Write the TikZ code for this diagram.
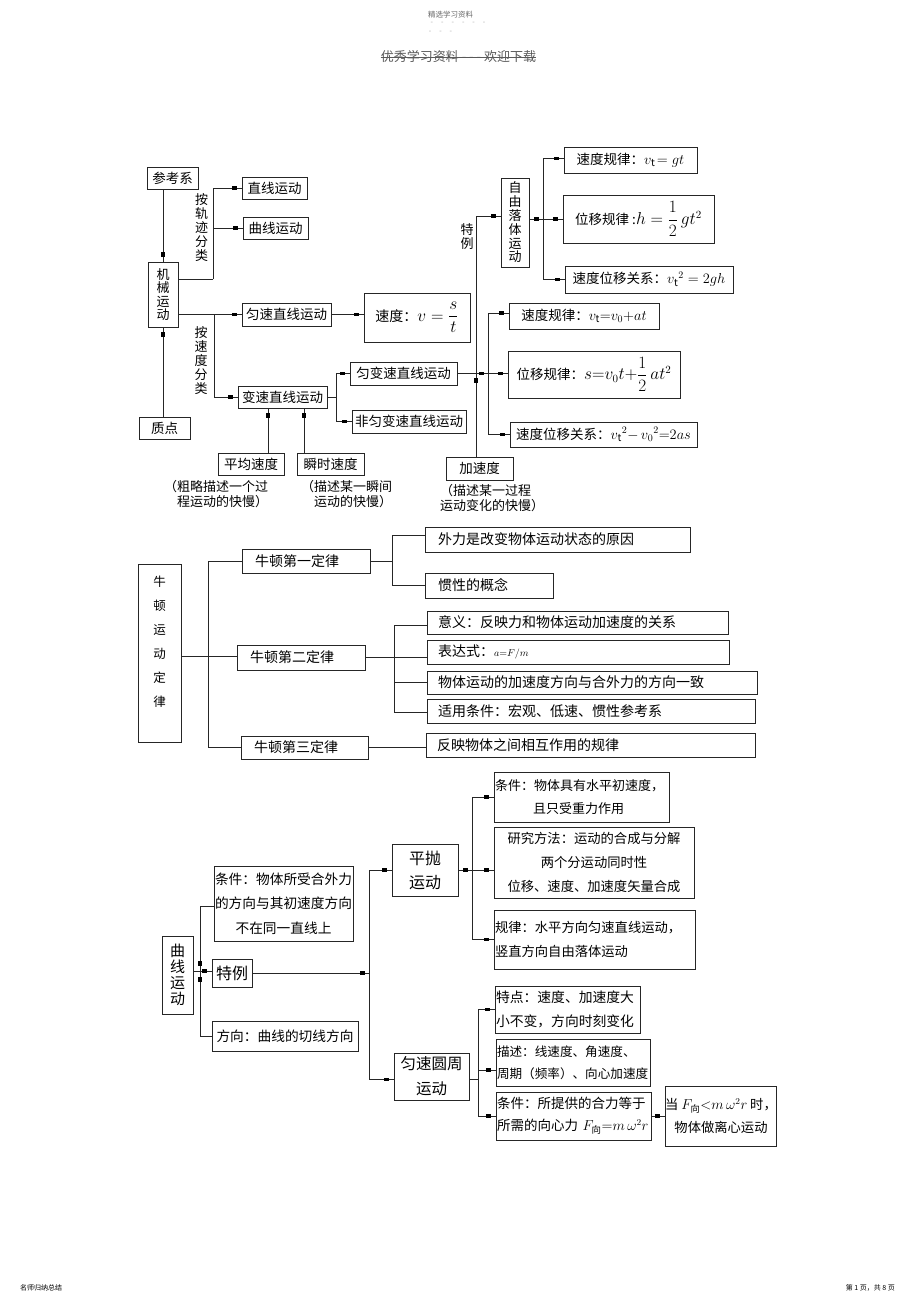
\documentclass[tikz,border=0pt]{standalone}
\usepackage{fontspec}
\usepackage{amsmath}
\setmainfont{Noto Sans CJK SC}
\usetikzlibrary{decorations.markings,calc}
\newcommand\myfs[2]{\fontsize{#1}{#2}\selectfont}
\tikzset{
  ln/.style={line width=0.9pt, draw=black!85},
  box/.style={ln, draw, inner sep=0pt, align=center, font=\myfs{13.5}{16}},
  mk/.style={ln, postaction={decorate}, decoration={markings, mark=at position -7pt with {\fill[black] (-2.5pt,-1.6pt) rectangle (2.5pt,1.6pt);}}},
  mks/.style={ln, postaction={decorate}, decoration={markings, mark=at position 8pt with {\fill[black] (-2.5pt,-1.6pt) rectangle (2.5pt,1.6pt);}}},
  vlab/.style={inner sep=0pt, align=center, font=\myfs{13}{14}},
  captxt/.style={inner sep=0pt, align=left, anchor=west, font=\myfs{13}{15}},
}
% centred box: [opts]{name}{x1}{y1}{x2}{y2}{text}
\newcommand\cbx[7][]{%
  \pgfmathsetmacro\BXw{#5-#3}\pgfmathsetmacro\BXh{#6-#4}%
  \pgfmathsetmacro\BXx{(#3+#5)/2}\pgfmathsetmacro\BXy{(#4+#6)/2}%
  \node[box,minimum width=\BXw pt,minimum height=\BXh pt,#1] (#2) at (\BXx,\BXy) {#7};}
% left-aligned box: [opts]{name}{x1}{y1}{x2}{y2}{pad}{text}
\newcommand\lbx[8][]{%
  \pgfmathsetmacro\BXw{#5-#3}\pgfmathsetmacro\BXh{#6-#4}%
  \pgfmathsetmacro\BXx{(#3+#5)/2}\pgfmathsetmacro\BXy{(#4+#6)/2}%
  \pgfmathsetmacro\BXt{#5-#3-2*#7}%
  \node[box,minimum width=\BXw pt,minimum height=\BXh pt,text width=\BXt pt,inner xsep=#7pt,align=left,font=\myfs{14}{16},#1] (#2) at (\BXx,\BXy) {#8};}
\begin{document}
\begin{tikzpicture}[x=1pt,y=-1pt]
\fill[white] (0,0) rectangle (920,1303);
\useasboundingbox (0,0) rectangle (920,1303);

% ---------- header / footer ----------
\node[font=\myfs{7.5}{9}, text=black!60, inner sep=0pt] (hd1) at (450.5,14.3) {精选学习资料};
\node[font=\myfs{7}{8}, text=black!35, inner sep=0pt] (hd2) at (458,23.3) {-\hspace{8pt}-\hspace{8pt}-\hspace{8pt}-\hspace{8pt}-\hspace{8pt}-};
\node[font=\myfs{7}{8}, text=black!35, inner sep=0pt] (hd3) at (440.5,32.3) {-\hspace{8pt}-\hspace{8pt}-};
\node[font=\myfs{13}{15}, text=black!65, inner sep=0pt] (hd4) at (458.5,57) {优秀学习资料 - - - 欢迎下载};
\draw[black!65, line width=0.7pt] (hd4.west) -- (hd4.east);
\node[font=\myfs{7}{8}, anchor=west, inner sep=0pt] (ft1) at (20,1288) {名师归纳总结};
\node[font=\myfs{7}{8}, anchor=east, inner sep=0pt] (ft2) at (895,1288) {第 1 页，共 8 页};

% ---------- section 1 : mechanical motion ----------
\cbx{ckx}{147}{167}{198}{189}{参考系}
\cbx{zx}{242}{177}{307}{199}{直线运动}
\cbx{qx}{243}{217}{308}{239}{曲线运动}
\cbx[font=\myfs{13}{13.5}]{jx}{148}{262}{178}{327}{机\\械\\运\\动}
\cbx{zd}{139}{417}{190}{439}{质点}
\cbx{ys}{242}{303}{331}{326}{匀速直线运动}
\cbx[font=\myfs{14}{16}]{vs}{364}{293}{470}{342}{速度：{\myfs{16}{18}$v=\dfrac{s}{t}$}}
\cbx{bs}{238}{386}{327}{408}{变速直线运动}
\cbx{ybs}{350}{362}{457}{385}{匀变速直线运动}
\cbx{fyb}{352}{410}{466}{433}{非匀变速直线运动}
\cbx{pj}{218}{453}{284}{475}{平均速度}
\cbx{ss}{297}{453}{364}{475}{瞬时速度}
\cbx{jsd}{446}{457}{513}{480}{加速度}
\cbx[font=\myfs{13}{13.8}]{zyl}{501}{178}{529}{267}{自\\由\\落\\体\\运\\动}
\cbx{f1}{564}{147}{697}{173}{速度规律：{\myfs{14.5}{16}$v_{\mathrm t}\!= gt$}}
\cbx{f2}{563}{195}{714}{243}{位移规律 :{\myfs{16}{18}$h=\dfrac{1}{2}\,gt^2$}}
\cbx{f3}{565}{266}{733}{293}{速度位移关系：{\myfs{14.5}{16}${v_{\mathrm t}}^2=2gh$}}
\cbx{f4}{509}{303}{659}{329}{速度规律：{\myfs{14.5}{16}$v_{\mathrm t}{=}v_0{+}at$}}
\cbx{f5}{508}{351}{680}{398}{位移规律：{\myfs{16}{18}$s{=}v_0t{+}\dfrac{1}{2}\,at^2$}}
\cbx{f6}{510}{422}{697}{447}{速度位移关系：{\myfs{14.5}{16}${v_{\mathrm t}}^2{-}\,{v_0}^2{=}2as$}}

\node[vlab] (agl) at (201.5,228) {按\\轨\\迹\\分\\类};
\node[vlab] (asd) at (201,361) {按\\速\\度\\分\\类};
\node[vlab] (tl0) at (467,237) {特\\例};

\node[captxt] (cp1) at (164,494.5) {（粗略描述一个过\\\hspace*{13pt}程运动的快慢）};
\node[captxt] (cp2) at (301,494.5) {（描述某一瞬间\\\hspace*{13pt}运动的快慢）};
\node[captxt] (cp3) at (440,498.5) {（描述某一过程\\运动变化的快慢）};

\coordinate (a1) at (213,279);
\draw[ln] (jx.east|-a1) -- (a1);
\draw[mk] (a1) |- (zx.west);
\draw[mk] (a1|-qx.west) -- (qx.west);
\coordinate (a2) at (214,314.5);
\draw[mk] (jx.east|-ys.west) -- (ys.west);
\draw[mk] (a2) |- (bs.west);
\draw[mk] (ckx.south-|jx.north) -- (jx.north);
\draw[mk] (zd.north-|jx.south) -- (jx.south);
\draw[mk] (ys.east) -- (ys.east-|vs.west);
\coordinate (a3) at (336,397);
\draw[ln] (bs.east) -- (a3);
\draw[mk] (a3) |- (ybs.west);
\draw[mk] (a3) |- (fyb.west);
\draw[mk] ([xshift=17pt]pj.north) -- ([xshift=17pt]pj.north|-bs.south);
\draw[mk] ([xshift=-26.5pt]ss.north) -- ([xshift=-26.5pt]ss.north|-bs.south);

\coordinate (a5) at (476,373.5);
\coordinate (a6) at (488,373.5);
\draw[mk] (ybs.east) -- (a6);
\draw[mk] (jsd.north-|a5) -- (a5);
\draw[mk] (a5) |- ([yshift=6.5pt]zyl.west);
\draw[mk] (a6) |- ([yshift=3pt]f4.west);
\draw[mk] (a6) -- (a6-|f5.west);
\draw[mk] (a6) |- (f6.west);

\coordinate (a7) at (543,219);
\draw[mk] (zyl.east|-a7) -- (a7);
\draw[mk] (a7) |- ([yshift=1.7pt]f1.west);
\draw[mk] (a7) -- (a7-|f2.west);
\draw[mk] (a7) |- (f3.west);

% ---------- section 2 : Newton's laws ----------
\cbx[font=\myfs{12.5}{24}]{nd}{138}{564}{181}{742}{牛\\顿\\运\\动\\定\\律\\\mbox{}}
\lbx{n1}{242}{549}{370}{573}{13}{牛顿第一定律}
\lbx{n2}{237}{645}{365}{670}{13}{牛顿第二定律}
\lbx{n3}{241}{736}{368}{759}{13}{牛顿第三定律}
\lbx{r1}{425}{527}{690}{552}{13}{外力是改变物体运动状态的原因}
\lbx{r2}{425}{573}{553}{598}{13}{惯性的概念}
\lbx{r3}{427}{611}{728}{634}{11}{意义：反映力和物体运动加速度的关系}
\lbx{r4}{427}{640}{729}{664}{11}{表达式：{\myfs{10}{10}$a{=}F/m$}}
\lbx{r5}{427}{671}{757}{694}{11}{物体运动的加速度方向与合外力的方向一致}
\lbx{r6}{427}{699}{755}{723}{11}{适用条件：宏观、低速、惯性参考系}
\lbx{r7}{426}{733}{755}{757}{11}{反映物体之间相互作用的规律}

\coordinate (b1) at (208,656.7);
\draw[ln] (nd.east|-b1) -- (b1);
\draw[ln] (b1) |- (n1.west);
\draw[ln] (b1) -- (b1-|n2.west);
\draw[ln] (b1) |- (n3.west);
\coordinate (b2) at (392,561);
\draw[ln] (n1.east) -- (b2);
\draw[ln] (b2) |- ([yshift=4.5pt]r1.west);
\draw[ln] (b2) |- (r2.west);
\coordinate (b3) at (394,657.5);
\draw[ln] (n2.east) -- (b3);
\draw[ln] (b3) |- ([yshift=-2.5pt]r3.west);
\draw[ln] (b3) -- (b3-|r4.west);
\draw[ln] (b3) |- (r5.west);
\draw[ln] (b3) |- ([yshift=-1.7pt]r6.west);
\draw[ln] (n3.east) -- (n3.east-|r7.west);

% ---------- section 3 : curvilinear motion ----------
\cbx[font=\myfs{15}{16}]{qxyd}{162}{936}{193}{1014}{曲\\线\\运\\动}
\cbx[font=\myfs{13.7}{24.7}]{tj}{214}{866}{353}{941}{条件：物体所受合外力\\的方向与其初速度方向\\不在同一直线上}
\cbx[font=\myfs{16}{18}]{tl}{212}{959}{252}{987}{特例}
\cbx[font=\myfs{13.7}{16}]{fx}{212}{1021}{358}{1051}{方向：曲线的切线方向}
\cbx[font=\myfs{16}{24}]{pp}{392}{844}{458}{896}{平抛\\运动}
\cbx[font=\myfs{15.5}{25}]{yz}{394}{1053}{469}{1100}{匀速圆周\\运动}
\lbx[font=\myfs{13}{23}]{p1}{494}{772}{669}{822}{1}{条件：物体具有水平初速度，\\\hspace*{38pt}且只受重力作用}
\cbx[font=\myfs{13.3}{24}]{p2}{494}{827}{694}{898}{研究方法：运动的合成与分解\\两个分运动同时性\\位移、速度、加速度矢量合成}
\lbx[font=\myfs{13.3}{24}]{p3}{494}{910}{695}{969}{1}{规律：水平方向匀速直线运动，\\竖直方向自由落体运动}
\lbx[font=\myfs{13.8}{24}]{ud1}{495}{986}{640}{1033}{1}{特点：速度、加速度大\\小不变，方向时刻变化}
\lbx[font=\myfs{12.6}{22}]{ud2}{496}{1039}{650}{1086}{1}{描述：线速度、角速度、\\周期（频率）、向心加速度}
\lbx[font=\myfs{13.5}{22}]{ud3}{496}{1092}{651}{1140}{1}{条件：所提供的合力等于\\所需的向心力 $F_{\text{向}}{=}m\,\omega^2r$}
\cbx[font=\myfs{13.3}{23}]{lx}{669}{1086}{773}{1146}{当 $F_{\text{向}}{<}m\,\omega^2r$ 时，\\物体做离心运动}

\coordinate (k0) at (200,971);
\draw[ln] (qxyd.east|-k0) -- (k0);
\draw[mks] (k0) |- ([yshift=-3.2pt]tj.west);
\draw[mks] (k0) |- (fx.west);
\draw[mk] (k0) -- (k0-|tl.west);
\coordinate (k1) at (369.3,973);
\draw[mk] (tl.east) -- (k1);
\draw[mk] (k1) |- (pp.west);
\draw[mk] (k1) |- ([yshift=-2.8pt]yz.west);
\coordinate (k2) at (472,870);
\draw[mk] (pp.east) -- (k2);
\draw[mk] (k2) |- (p1.west);
\draw[mk] (k2) -- (k2-|p2.west);
\draw[mk] (k2) |- (p3.west);
\coordinate (k3) at (478.3,1079.3);
\draw[ln] ([yshift=-2.8pt]yz.east) -- (k3);
\draw[mk] (k3) |- (ud1.west);
\draw[mk] (k3) |- ([yshift=-7.5pt]ud2.west);
\draw[mk] (k3) |- (ud3.west);
\draw[mk] (ud3.east) -- (ud3.east-|lx.west);
\end{tikzpicture}
\end{document}
